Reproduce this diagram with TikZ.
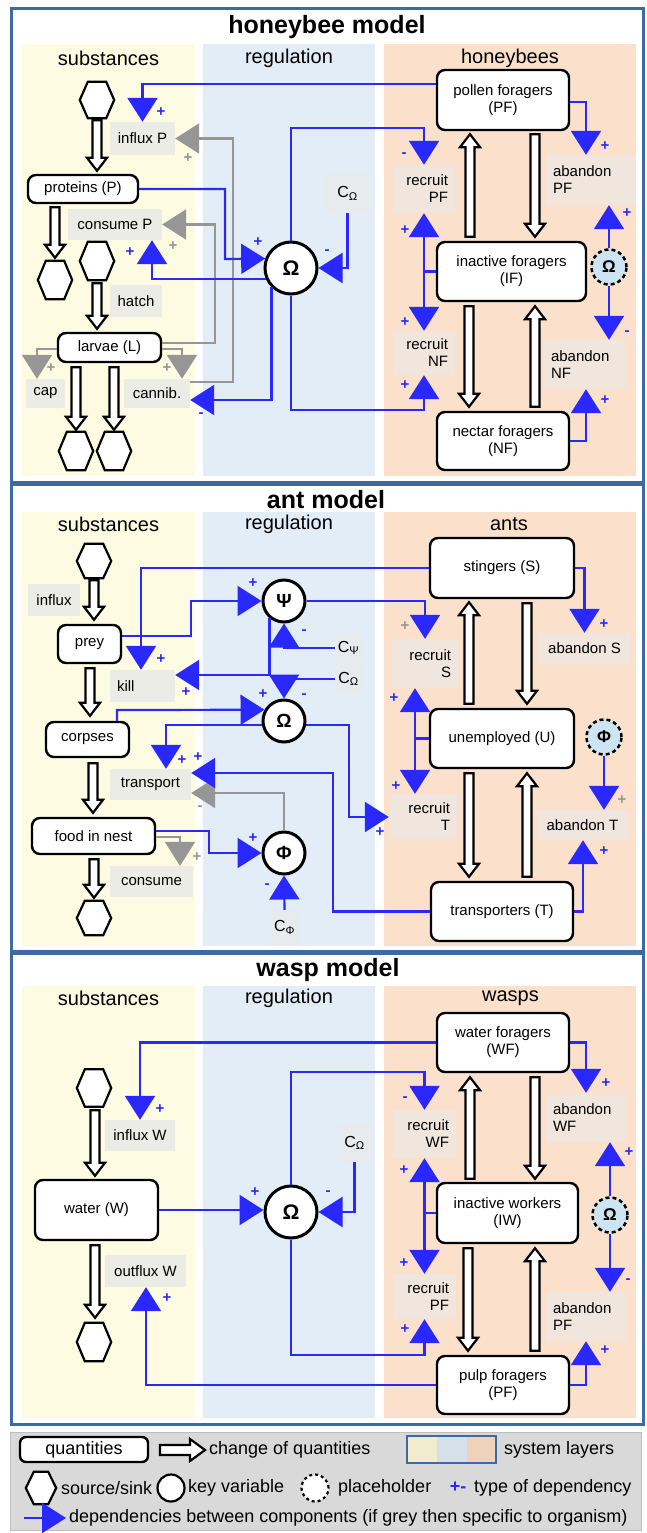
\documentclass[tikz,border=0pt]{standalone}
\usepackage{fontspec}
\setmainfont{Liberation Sans}
\usetikzlibrary{arrows.meta,calc}
\definecolor{colY}{RGB}{253,251,225}
\definecolor{colB}{RGB}{226,237,248}
\definecolor{colP}{RGB}{251,225,203}
\definecolor{lblY}{RGB}{236,236,230}
\definecolor{lblP}{RGB}{240,230,222}
\definecolor{lblB}{RGB}{232,235,238}
\definecolor{panelc}{RGB}{59,106,165}
\definecolor{depblue}{RGB}{40,40,255}
\definecolor{depgray}{RGB}{150,150,150}
\definecolor{phblue}{RGB}{205,228,242}
\definecolor{legbg}{RGB}{217,217,217}
\definecolor{legbd}{RGB}{190,190,190}
\definecolor{swY}{RGB}{240,236,205}
\definecolor{swB}{RGB}{212,224,234}
\definecolor{swP}{RGB}{238,210,185}
\newcommand\fnode{\fontsize{15}{17}\selectfont}
\newcommand\fhead{\fontsize{20}{24}\selectfont}
\newcommand\ftitle{\bfseries\fontsize{25}{30}\selectfont}
\newcommand\fcirc{\bfseries\fontsize{21}{24}\selectfont}
\newcommand\fcircs{\bfseries\fontsize{19}{22}\selectfont}
\newcommand\fph{\bfseries\fontsize{17}{20}\selectfont}
\newcommand\fsgn{\bfseries\fontsize{15}{15}\selectfont}
\newcommand\fleg{\fontsize{18}{21}\selectfont}
\newcommand\fC{\fontsize{16}{18}\selectfont}
\tikzset{
  qbox/.style={draw, line width=2.4pt, rounded corners=8pt, fill=white, align=center, inner sep=0pt, font=\fnode},
  lbl/.style={inner xsep=7pt, inner ysep=0pt, font=\fnode},
  lblYs/.style={lbl, fill=lblY},
  lblPs/.style={lbl, fill=lblP},
  lblBs/.style={lbl, inner xsep=3pt, fill=lblB, font=\fC},
  keyc/.style={circle, draw, line width=3pt, fill=white, inner sep=0pt, minimum size=52pt, font=\fcirc},
  keys/.style={keyc, minimum size=42pt, font=\fcircs},
  phc/.style={circle, draw, line width=2.5pt, dash pattern=on 4pt off 3pt, fill=phblue, inner sep=0pt, minimum size=35pt, font=\fph},
  hexbox/.style={inner sep=0pt, draw=none},
  hexline/.style={draw, line width=2.2pt, fill=white, line join=miter},
  blk/.style={draw, line width=2.2pt, fill=white, line join=miter},
  tipA/.tip={Triangle[width=30pt,length=24pt]},
  dep/.style={draw=depblue, line width=2.2pt, -tipA},
  depl/.style={draw=depblue, line width=2.2pt},
  gdep/.style={draw=depgray, line width=2.2pt, -tipA},
  sgn/.style={font=\fsgn, inner sep=0pt},
  panel/.style={draw=panelc, line width=3pt, fill=white},
  head/.style={font=\fhead, inner sep=0pt},
  titl/.style={font=\ftitle, inner sep=0pt},
  legt/.style={anchor=west, font=\fleg, inner sep=0pt}
}
\newcommand{\hexn}[5]{%
  \node[hexbox, minimum width=#4pt, minimum height=#5pt] (#1) at (#2,#3) {};
  \draw[hexline] (#1.west) -- ([xshift=8pt]#1.north west) -- ([xshift=-8pt]#1.north east) -- (#1.east) -- ([xshift=-8pt]#1.south east) -- ([xshift=8pt]#1.south west) -- cycle;}
\newcommand{\blockar}[2]{%
  \draw[blk] let \p1=#1, \p2=#2, \p3=(\x1,\y2), \p4=($(\p3)!13pt!(\p1)$) in
  (\x1-4.5pt,\y1) -- (\x1-4.5pt,\y4) -- (\x1-10pt,\y4) -- (\x3,\y3) -- (\x1+10pt,\y4) -- (\x1+4.5pt,\y4) -- (\x1+4.5pt,\y1) -- cycle;}
\newcommand{\plusB}[2]{\node[sgn, text=depblue] (#1) at (#2) {+};}
\newcommand{\minusB}[2]{\node[sgn, text=depblue] (#1) at (#2) {-};}
\newcommand{\plusG}[2]{\node[sgn, text=depgray] (#1) at (#2) {+};}
\newcommand{\minusG}[2]{\node[sgn, text=depgray] (#1) at (#2) {-};}
\begin{document}
\begin{tikzpicture}[x=1pt,y=-1pt]
\useasboundingbox (0,0) rectangle (647,1533);
\fill[white] (0,0) rectangle (647,1533);
% panels and layers
\draw[panel] (11,9) rectangle (643,482);
\draw[panel] (11,484) rectangle (643,951);
\draw[panel] (11,953) rectangle (643,1424);
\foreach \ya/\yb in {44/476, 512/946, 986/1418}{
  \fill[colY] (22,\ya) rectangle (195,\yb);
  \fill[colB] (203,\ya) rectangle (375,\yb);
  \fill[colP] (384,\ya) rectangle (636,\yb);
}
% titles and headers
\node[titl] (t1) at (327,27) {honeybee model};
\node[head] (h1a) at (108.5,58) {substances};
\node[head] (h1b) at (289,58) {regulation};
\node[head] (h1c) at (510,58) {honeybees};
\node[titl] (t2) at (326,500) {ant model};
\node[head] (h2a) at (108.5,524) {substances};
\node[head] (h2b) at (289,524) {regulation};
\node[head] (h2c) at (509,524) {ants};
\node[titl] (t3) at (328,970) {wasp model};
\node[head] (h3a) at (108.5,998) {substances};
\node[head] (h3b) at (289,998) {regulation};
\node[head] (h3c) at (510.5,998) {wasps};

% ================= honeybee =================
\node[qbox, minimum width=110pt, minimum height=28pt] (prot) at (83,189) {proteins (P)};
\node[lblYs, minimum width=65pt, minimum height=33pt] (influxP) at (142.5,138.5) {influx P};
\node[lblYs, minimum width=94pt, minimum height=31pt] (consumeP) at (115,224.5) {consume P};
\node[lblYs, minimum width=52pt, minimum height=32pt] (hatch) at (136,301) {hatch};
\node[qbox, minimum width=103pt, minimum height=29pt] (larvae) at (109.5,347.5) {larvae (L)};
\node[lblYs, minimum width=39pt, minimum height=29pt] (cap) at (45.5,393.5) {cap};
\node[lblYs, minimum width=66pt, minimum height=29pt] (cannib) at (157,393.5) {cannib.};
\hexn{hexP}{97}{100}{34}{36}
\hexn{hexPs}{55}{280}{34}{38}
\hexn{hexL}{97}{261}{34}{38}
\hexn{hexS1}{76}{451}{34}{38}
\hexn{hexS2}{114}{451}{34}{38}
\node[keyc] (Om1) at (291,268) {Ω};
\node[lblBs, minimum width=43pt, minimum height=39pt] (COm1) at (347.5,193.5) {C\textsubscript{Ω}};
\node[qbox, minimum width=132pt, minimum height=60pt] (PF) at (503,100) {pollen foragers\\(PF)};
\node[lblPs, text width=48pt, align=right, minimum height=48pt] (recruitPF) at (424,189) {recruit\\PF};
\node[lblPs, text width=75pt, align=left, minimum height=50pt] (abandonPF) at (590.5,180) {abandon\\PF};
\node[qbox, minimum width=149pt, minimum height=59pt] (IF) at (511.5,271.5) {inactive foragers\\(IF)};
\node[phc] (phOm1) at (609,267) {Ω};
\node[lblPs, text width=48pt, align=right, minimum height=44pt] (recruitNF) at (424,353) {recruit\\NF};
\node[lblPs, text width=67pt, align=left, minimum height=49pt] (abandonNF) at (584.5,364.5) {abandon\\NF};
\node[qbox, minimum width=132pt, minimum height=58pt] (NF) at (503,441) {nectar foragers\\(NF)};

\blockar{([yshift=-2pt]hexP.south)}{([yshift=3pt]prot.north)}
\blockar{([xshift=-28pt,yshift=-3pt]prot.south)}{([yshift=3pt]hexPs.north)}
\blockar{([yshift=-3pt]hexL.south)}{([yshift=3pt]larvae.north)}
\blockar{([xshift=-33.5pt,yshift=-4pt]larvae.south)}{([yshift=2pt]hexS1.north)}
\blockar{([xshift=4.5pt,yshift=-4pt]larvae.south)}{([yshift=2pt]hexS2.north)}
\blockar{([xshift=-41.5pt,yshift=4pt]IF.north)}{([yshift=-3pt]PF.south)}
\blockar{([xshift=32pt,yshift=-3pt]PF.south)}{([yshift=4pt]IF.north)}
\blockar{([xshift=-42.5pt,yshift=-4pt]IF.south)}{([yshift=4pt]NF.north)}
\blockar{([xshift=32pt,yshift=4pt]NF.north)}{([yshift=-4pt]IF.south)}

\draw[gdep] (cannib.east |- 0,382) -- (233,382) |- (influxP.east);
\draw[gdep] (larvae.east |- 0,343) -- (215,343) |- (consumeP.east);
\draw[gdep] (larvae.east |- 0,349) -| ([xshift=25pt]cannib.north);
\draw[gdep] (larvae.west |- 0,349) -| ([xshift=-8.5pt]cap.north);
\draw[dep] (PF.west |- 0,84) -| (influxP.north);
\draw[dep] (Om1.225) -- (Om1.225 |- 0,400) -- (cannib.east |- 0,400);
\draw[dep] (Om1.south) -- (Om1.south |- 0,410) -| (recruitNF.south);
\draw[dep] (prot.east) -| (225,259) -- (Om1.160);
\draw[dep] (Om1.204) -| ([xshift=37pt]consumeP.south);
\draw[dep] (Om1.north) -- (Om1.north |- 0,128) -| (recruitPF.north);
\draw[dep] (COm1.south) |- (Om1.east);
\draw[dep] (PF.east |- 0,102) -| ([xshift=-4.5pt]abandonPF.north);
\draw[depl] (IF.west) -- (recruitPF.south |- IF.west);
\draw[dep] (recruitPF.south |- IF.west) -- (recruitPF.south);
\draw[dep] (recruitPF.south |- IF.west) -- (recruitNF.north);
\draw[dep] (phOm1.north) -- (phOm1.north |- abandonPF.south);
\draw[dep] (phOm1.south) -- (phOm1.south |- abandonNF.north);
\draw[dep] (NF.east) -| ([xshift=1.5pt]abandonNF.south);

\plusB{s1}{161,112}
\plusG{s2}{188,158}
\plusG{s3}{173,246}
\plusB{s4}{130,252}
\plusG{s5}{167,368}
\plusG{s6}{51,368}
\minusB{s7}{201,415}
\plusB{s8}{258,242}
\minusB{s9}{327,252}
\minusB{s10}{404,155}
\plusB{s11}{405,230}
\plusB{s12}{405,322}
\plusB{s13}{405,385}
\plusB{s14}{605,146}
\plusB{s15}{627,213}
\minusB{s16}{627,333}
\plusB{s17}{605,400}

% ================= ant =================
\node[lblYs, minimum width=52pt, minimum height=32pt] (influx) at (54,600) {influx};
\node[qbox, minimum width=63pt, minimum height=38pt] (prey) at (89.5,644) {prey};
\node[lblYs, text width=51pt, align=left, minimum height=32pt] (kill) at (142.5,686) {kill};
\node[qbox, minimum width=83pt, minimum height=35pt] (corpses) at (87.5,739.5) {corpses};
\node[lblYs, minimum width=81pt, minimum height=31pt] (transport) at (150.5,784.5) {transport};
\node[qbox, minimum width=123pt, minimum height=36pt] (food) at (93.5,836) {food in nest};
\node[lblYs, minimum width=83pt, minimum height=31pt] (consume) at (151.5,881.5) {consume};
\hexn{hexI}{94}{561}{34}{34}
\hexn{hexO}{94}{918}{34}{34}
\node[keys] (Psi) at (284,601) {Ψ};
\node[keys] (Om2) at (284,721) {Ω};
\node[keys] (Phi) at (284,853) {Φ};
\node[lblBs, minimum width=27pt, minimum height=30pt] (CPsi) at (348.5,648) {C\textsubscript{Ψ}};
\node[lblBs, minimum width=27pt, minimum height=30pt] (COm2) at (348.5,679) {C\textsubscript{Ω}};
\node[lblBs, minimum width=25pt, minimum height=35pt] (CPhi) at (284.5,927.5) {C\textsubscript{Φ}};
\node[qbox, minimum width=144pt, minimum height=60pt] (S) at (502,568) {stingers (S)};
\node[lblPs, text width=52pt, align=right, minimum height=49pt] (recruitS) at (425,663.5) {recruit\\S};
\node[lblPs, minimum width=93pt, minimum height=31pt] (abandonS) at (584.5,648.5) {abandon S};
\node[qbox, minimum width=144pt, minimum height=59pt] (U) at (502,738.5) {unemployed (U)};
\node[phc] (phPhi) at (604,737) {Φ};
\node[lblPs, text width=54pt, align=right, minimum height=45pt] (recruitT) at (423,816.5) {recruit\\T};
\node[lblPs, minimum width=91pt, minimum height=30pt] (abandonT) at (582.5,825) {abandon T};
\node[qbox, minimum width=142pt, minimum height=59pt] (T) at (502,911.5) {transporters (T)};

\blockar{([yshift=-2pt]hexI.south)}{([yshift=4pt]prey.north)}
\blockar{([xshift=0.5pt,yshift=-4pt]prey.south)}{([yshift=5pt]corpses.north)}
\blockar{([xshift=5.5pt,yshift=-5pt]corpses.south)}{([yshift=4pt]food.north)}
\blockar{([xshift=0.5pt,yshift=-4pt]food.south)}{([yshift=3pt]hexO.north)}
\blockar{([xshift=-33pt,yshift=4pt]U.north)}{([yshift=-3pt]S.south)}
\blockar{([xshift=25pt,yshift=-4pt]S.south)}{([yshift=4pt]U.north)}
\blockar{([xshift=-33pt,yshift=-4pt]U.south)}{([yshift=4pt]T.north)}
\blockar{([xshift=25pt,yshift=4pt]T.north)}{([yshift=-4pt]U.south)}

\draw[gdep] (Phi.north) |- (transport.east |- 0,793);
\draw[gdep] (food.east |- 0,837) -| ([xshift=28.5pt]consume.north);
\draw[dep] (S.west) -| ([xshift=-1.5pt]kill.north);
\draw[dep] (prey.east |- 0,636) -| (191,601) -- (Psi.west);
\draw[dep] (Psi.230) -- (Psi.230 |- 0,675) -- (kill.east |- 0,675);
\draw[dep] (CPsi.west) -| (Psi.south);
\draw[dep] (Psi.east) -| (recruitS.north);
\draw[dep] (COm2.west) -| (Om2.north);
\draw[dep] (117,0 |- corpses.north) -- (117,710) -- (Om2.150);
\draw[dep] (Om2.190) -| ([xshift=15.5pt]transport.north);
\draw[dep] (T.west) -| (333,773) -- (transport.east |- 0,773);
\draw[dep] (Om2.350) -| (349,817) -- (recruitT.west |- 0,817);
\draw[dep] (food.east |- 0,831) -| (209,853) -- (Phi.west);
\draw[dep] (CPhi.north) -- (Phi.south);
\draw[dep] (S.east) -| (abandonS.north);
\draw[depl] (U.west) -- (415,0 |- U.west);
\draw[dep] (415,0 |- U.west) -- (415,0 |- recruitS.south);
\draw[dep] (415,0 |- U.west) -- (415,0 |- recruitT.north);
\draw[dep] (phPhi.south) -- (phPhi.south |- abandonT.north);
\draw[dep] (T.east) -| ([xshift=0.5pt]abandonT.south);

\plusB{a1}{161,659}
\plusB{a2}{186,692}
\plusB{a3}{253,583}
\minusB{a4}{304,632}
\plusB{a5}{263,694}
\minusB{a6}{304,696}
\plusB{a7}{182,760}
\plusB{a8}{198,757}
\minusG{a9}{200,808}
\plusB{a10}{253,838}
\plusG{a11}{197,857}
\minusB{a12}{267,886}
\plusG{a13}{405,626}
\plusB{a14}{394,698}
\plusB{a15}{396,786}
\plusB{a16}{380,832}
\plusB{a17}{604,624}
\plusG{a18}{622,800}
\plusB{a19}{604,851}

% ================= wasp =================
\node[lblYs, minimum width=70pt, minimum height=31pt] (influxW) at (140,1135.5) {influx W};
\node[qbox, minimum width=123pt, minimum height=60pt] (water) at (96.5,1210) {water (W)};
\node[lblYs, minimum width=81pt, minimum height=32pt] (outfluxW) at (145.5,1271) {outflux W};
\hexn{hexW1}{94}{1088}{34}{37}
\hexn{hexW2}{94}{1342}{34}{38}
\node[keyc] (Om3) at (291,1212) {Ω};
\node[lblBs, minimum width=35pt, minimum height=38pt] (COm3) at (354.5,1143) {C\textsubscript{Ω}};
\node[qbox, minimum width=132pt, minimum height=59pt] (WF) at (503,1042.5) {water foragers\\(WF)};
\node[lblPs, text width=49pt, align=right, minimum height=48pt] (recruitWF) at (424.5,1134) {recruit\\WF};
\node[lblPs, text width=66pt, align=left, minimum height=49pt] (abandonWF) at (586,1117.5) {abandon\\WF};
\node[qbox, minimum width=141pt, minimum height=60pt] (IW) at (507.5,1213) {inactive workers\\(IW)};
\node[phc] (phOm3) at (610,1215) {Ω};
\node[lblPs, text width=49pt, align=right, minimum height=45pt] (recruitPF2) at (424.5,1296.5) {recruit\\PF};
\node[lblPs, text width=66pt, align=left, minimum height=49pt] (abandonPF2) at (586,1316.5) {abandon\\PF};
\node[qbox, minimum width=132pt, minimum height=58pt] (PF2) at (503,1385) {pulp foragers\\(PF)};

\blockar{([xshift=1pt,yshift=-3.5pt]hexW1.south)}{([yshift=3pt]water.north)}
\blockar{([xshift=-1.5pt,yshift=-4pt]water.south)}{([yshift=5pt]hexW2.north)}
\blockar{([xshift=-37.5pt,yshift=3pt]IW.north)}{([yshift=-4pt]WF.south)}
\blockar{([xshift=32pt,yshift=-4pt]WF.south)}{([yshift=3pt]IW.north)}
\blockar{([xshift=-39.5pt,yshift=-4pt]IW.south)}{([yshift=4pt]PF2.north)}
\blockar{([xshift=32pt,yshift=4pt]PF2.north)}{([yshift=-4pt]IW.south)}

\draw[dep] (WF.west) -| (influxW.north);
\draw[dep] (water.east) -- (Om3.west |- water.east);
\draw[dep] (PF2.west) -| ([xshift=0.5pt]outfluxW.south);
\draw[dep] (Om3.north) -- (Om3.north |- 0,1072) -| (recruitWF.north);
\draw[dep] (COm3.south) |- (Om3.east);
\draw[dep] (Om3.south) -- (Om3.south |- 0,1355) -| (recruitPF2.south);
\draw[dep] (WF.east) -| (abandonWF.north);
\draw[depl] (IW.west) -- (recruitWF.south |- IW.west);
\draw[dep] (recruitWF.south |- IW.west) -- (recruitWF.south);
\draw[dep] (recruitWF.south |- IW.west) -- (recruitPF2.north);
\draw[dep] (phOm3.north) -- (phOm3.north |- abandonWF.south);
\draw[dep] (phOm3.south) -- (phOm3.south |- abandonPF2.north);
\draw[dep] (PF2.east) -| (abandonPF2.south);

\plusB{w1}{160,1109}
\plusB{w2}{255,1192}
\minusB{w3}{328,1193}
\plusB{w4}{167,1298}
\minusB{w5}{405,1099}
\plusB{w6}{404,1170}
\plusB{w7}{404,1263}
\plusB{w8}{405,1329}
\plusB{w9}{606,1083}
\plusB{w10}{629,1152}
\minusB{w11}{628,1281}
\plusB{w12}{605,1350}

% ================= legend =================
\draw[fill=legbg, draw=legbd, line width=1pt] (10,1432) rectangle (641,1530);
\node[qbox, minimum width=128pt, minimum height=25pt, font=\fleg, rounded corners=6pt] (lq) at (84,1449.5) {quantities};
\draw[blk] (160,1445) -- (190,1445) -- (190,1439) -- (205,1450) -- (190,1461) -- (190,1455) -- (160,1455) -- cycle;
\node[legt] (lchg) at (209,1450) {change of quantities};
\fill[swY] (407,1436) rectangle (437,1463);
\fill[swB] (437,1436) rectangle (467,1463);
\fill[swP] (467,1436) rectangle (496,1463);
\draw[panelc, line width=2pt] (407,1436) rectangle (496,1463);
\node[legt] (lsys) at (504,1450) {system layers};
\hexn{lhex}{41}{1488}{30}{32}
\node[legt] (lsrc) at (61,1488) {source/sink};
\node[circle, draw, line width=2.2pt, fill=white, minimum size=27pt, inner sep=0pt] (lkey) at (171,1488) {};
\node[legt] (lkv) at (188,1488) {key variable};
\node[circle, draw, line width=2.2pt, dash pattern=on 3pt off 3pt, fill=white, minimum size=27pt, inner sep=0pt] (lph) at (315,1488) {};
\node[legt] (lphl) at (338,1488) {placeholder};
\node[font=\bfseries\fleg, text=depblue, inner sep=0pt] (lpm) at (458,1487) {+-};
\node[legt] (ltd) at (474,1488) {type of dependency};
\coordinate (la1) at (24,1518);
\coordinate (la2) at (66,1518);
\draw[dep] (la1) -- (la2);
\node[legt] (ldep) at (69,1518) {dependencies between components (if grey then specific to organism)};
\end{tikzpicture}
\end{document}
